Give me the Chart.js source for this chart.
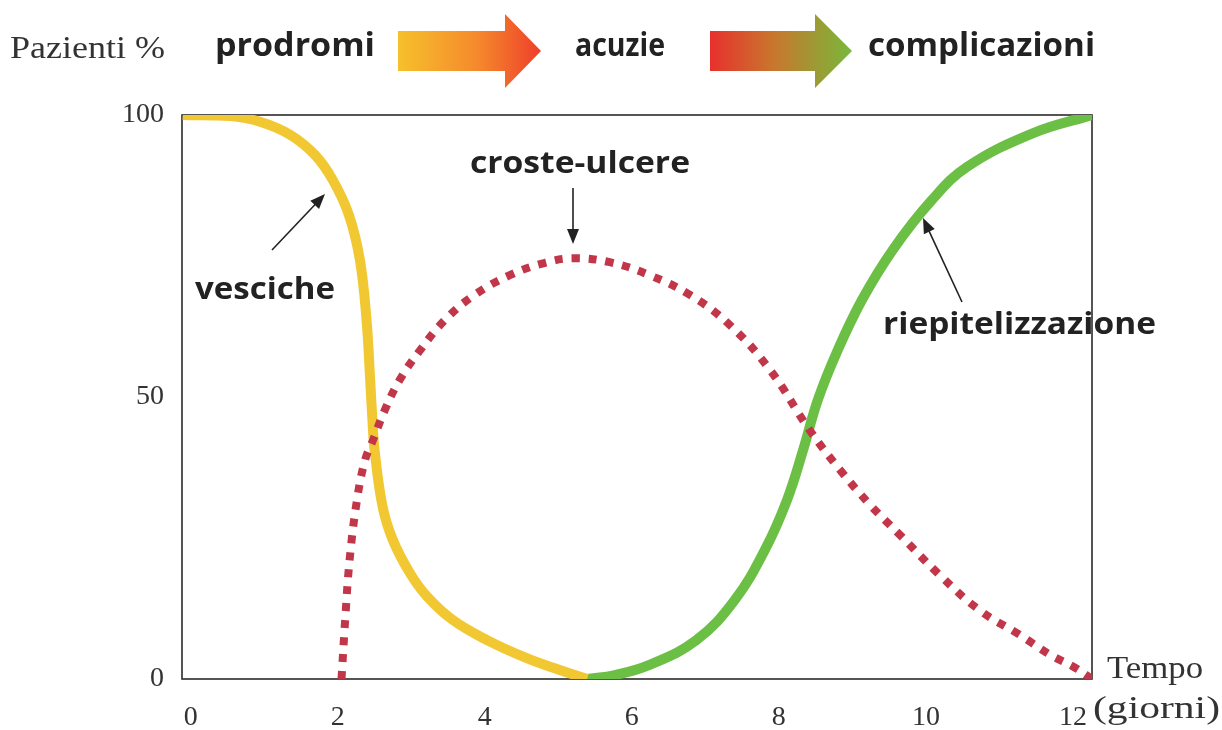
<!DOCTYPE html>
<html>
<head>
<meta charset="utf-8">
<script src="https://cdn.jsdelivr.net/npm/chart.js@4/dist/chart.umd.min.js"></script>
<style>
	html, body { margin: 0; padding: 0; background: #fff; }
	#wrap { width: 1222px; height: 730px; position: relative; }
</style>
</head>
<body>
<div id="wrap"><canvas id="chart" width="1222" height="730"></canvas></div>
<script>
// tick labels
const xTicks = [0, 2, 4, 6, 8, 10, 12];
const yTicks = [0, 50, 100];

// vesciche (yellow)
const vescicheX = [-0.11, 0.53, 0.94, 1.35, 1.69, 1.93, 2.15, 2.3, 2.39, 2.44, 2.47, 2.5, 2.61, 2.75, 2.98, 3.21, 3.56, 4.03, 4.57, 5.02, 5.39];
const vescicheY = [100, 99.8, 98.8, 96.5, 92.9, 88.5, 82.3, 74.3, 63.7, 53.0, 46.0, 40.6, 30.5, 24.6, 18.8, 14.7, 10.5, 6.9, 3.7, 1.6, 0];

// croste-ulcere (red dotted)
const crosteX = [2.05, 2.1, 2.16, 2.26, 2.37, 2.48, 2.64, 2.84, 3.12, 3.46, 3.86, 4.34, 4.82, 5.2, 5.7, 6.24, 6.79, 7.33, 7.88, 8.42, 8.83, 9.24, 9.65, 10.19, 10.73, 11.28, 11.69, 12.03, 12.26];
const crosteY = [0, 10.5, 21.1, 31.7, 38.8, 42.4, 47.7, 53.0, 58.3, 63.7, 68.1, 71.6, 73.8, 74.6, 73.9, 71.6, 68.1, 62.8, 54.8, 44.1, 37.1, 30.9, 25.5, 18.4, 12.2, 7.8, 4.3, 2.0, 0];

// riepitelizzazione (green)
const riepX = [5.39, 5.77, 6.24, 6.88, 7.4, 7.81, 8.11, 8.33, 8.53, 8.8, 9.13, 9.55, 10.08, 10.56, 11.46, 12.26];
const riepY = [0, 0.7, 2.5, 6.9, 14.0, 22.9, 31.7, 40.6, 49.5, 58.3, 67.2, 76.1, 84.9, 90.8, 96.8, 100];

const toPoints = (xs, ys) => xs.map((x, i) => ({x: x, y: ys[i]}));

const serif = '"Liberation Serif", "DejaVu Serif", serif';
const sans = '"Open Sans", "Noto Sans", sans-serif';

function fitText(ctx, text, x, y, width, font, color)
{
	ctx.save();
	ctx.font = font;
	ctx.fillStyle = color;
	ctx.textBaseline = 'middle';
	ctx.textAlign = 'left';
	let w = ctx.measureText(text).width;
	ctx.translate(x, y);
	ctx.scale(width / w, 1);
	ctx.fillText(text, 0, 0);
	ctx.restore();
}

function bigArrow(ctx, x0, x1, x2, yc, bh, hh, stops)
{
	let g = ctx.createLinearGradient(x0, 0, x2, 0);
	stops.forEach(s => g.addColorStop(s[0], s[1]));
	ctx.save();
	ctx.beginPath();
	ctx.moveTo(x0, yc - bh);
	ctx.lineTo(x1, yc - bh);
	ctx.lineTo(x1, yc - hh);
	ctx.lineTo(x2, yc);
	ctx.lineTo(x1, yc + hh);
	ctx.lineTo(x1, yc + bh);
	ctx.lineTo(x0, yc + bh);
	ctx.closePath();
	ctx.fillStyle = g;
	ctx.fill();
	ctx.restore();
}

function smallArrow(ctx, x0, y0, x1, y1)
{
	let a = Math.atan2(y1 - y0, x1 - x0);
	let len = 15, w = 6;
	ctx.save();
	ctx.strokeStyle = '#222';
	ctx.fillStyle = '#222';
	ctx.lineWidth = 1.6;
	ctx.beginPath();
	ctx.moveTo(x0, y0);
	ctx.lineTo(x1 - Math.cos(a) * len * 0.8, y1 - Math.sin(a) * len * 0.8);
	ctx.stroke();
	ctx.beginPath();
	ctx.moveTo(x1, y1);
	ctx.lineTo(x1 - Math.cos(a) * len - Math.sin(a) * w, y1 - Math.sin(a) * len + Math.cos(a) * w);
	ctx.lineTo(x1 - Math.cos(a) * len + Math.sin(a) * w, y1 - Math.sin(a) * len - Math.cos(a) * w);
	ctx.closePath();
	ctx.fill();
	ctx.restore();
}

const decorations = {
	id: 'decorations',
	beforeDatasetsDraw(chart) {
		let ctx = chart.ctx;
		let a = chart.chartArea;
		ctx.save();
		ctx.strokeStyle = '#2b2b2b';
		ctx.lineWidth = 1.6;
		ctx.strokeRect(a.left, a.top, a.right - a.left, a.bottom - a.top);
		ctx.restore();
	},
	afterDraw(chart) {
		let ctx = chart.ctx;

		// header
		fitText(ctx, 'Pazienti %', 10, 50, 155, '31px ' + serif, '#333');
		fitText(ctx, 'prodromi', 215, 47, 160, 'bold 33px ' + sans, '#222');
		bigArrow(ctx, 398, 505, 541, 51, 20, 37, [[0, '#f6c02c'], [0.55, '#f58a2c'], [1, '#ee3f2a']]);
		fitText(ctx, 'acuzie', 575, 47, 90, 'bold 33px ' + sans, '#222');
		bigArrow(ctx, 710, 815, 852, 51, 20, 37, [[0, '#e8302c'], [0.45, '#c8772e'], [1, '#78b83a']]);
		fitText(ctx, 'complicazioni', 868, 47, 227, 'bold 33px ' + sans, '#222');

		// annotations
		fitText(ctx, 'vesciche', 195, 290, 140, 'bold 31px ' + sans, '#222');
		smallArrow(ctx, 272, 250, 325, 194);
		fitText(ctx, 'croste-ulcere', 470, 164, 220, 'bold 31px ' + sans, '#222');
		smallArrow(ctx, 573, 188, 573, 244);
		fitText(ctx, 'riepitelizzazione', 883, 325, 273, 'bold 31px ' + sans, '#222');
		smallArrow(ctx, 962, 302, 923, 218);

		// axis titles
		fitText(ctx, 'Tempo', 1107, 670, 96, '31px ' + serif, '#333');
		fitText(ctx, '(giorni)', 1093, 710, 127, '31px ' + serif, '#333');
	}
};

new Chart(document.getElementById('chart'), {
	type: 'line',
	data: {
		datasets: [
			{
				label: 'croste-ulcere',
				data: toPoints(crosteX, crosteY),
				borderColor: '#c2364a',
				borderWidth: 8,
				borderDash: [8, 9],
				borderCapStyle: 'butt',
				pointRadius: 0,
				tension: 0.4,
				fill: false,
			},
			{
				label: 'vesciche',
				data: toPoints(vescicheX, vescicheY),
				borderColor: '#f2c832',
				borderWidth: 10,
				pointRadius: 0,
				tension: 0.4,
				fill: false,
			},
			{
				label: 'riepitelizzazione',
				data: toPoints(riepX, riepY),
				borderColor: '#6cbf45',
				borderWidth: 10,
				pointRadius: 0,
				tension: 0.4,
				fill: false,
			},
		],
	},
	options: {
		responsive: false,
		animation: false,
		layout: {
			padding: {left: 0, top: 115, right: 130, bottom: 0},
		},
		scales: {
			x: {
				type: 'linear',
				min: -0.12,
				max: 12.26,
				grid: {display: false},
				border: {display: false},
				afterBuildTicks: (scale) => {
					scale.ticks = xTicks.map(v => ({value: v}));
				},
				afterFit: (scale) => {
					scale.height = 51;
				},
				ticks: {
					padding: 14,
					color: '#333',
					font: {family: serif, size: 28},
				},
			},
			y: {
				type: 'linear',
				min: 0,
				max: 100,
				grid: {display: false},
				border: {display: false},
				afterBuildTicks: (scale) => {
					scale.ticks = yTicks.map(v => ({value: v}));
				},
				afterFit: (scale) => {
					scale.width = 182;
				},
				ticks: {
					padding: 10,
					color: '#333',
					font: {family: serif, size: 28},
				},
			},
		},
		plugins: {
			legend: {display: false},
			tooltip: {enabled: false},
		},
	},
	plugins: [decorations],
});
</script>
</body>
</html>
